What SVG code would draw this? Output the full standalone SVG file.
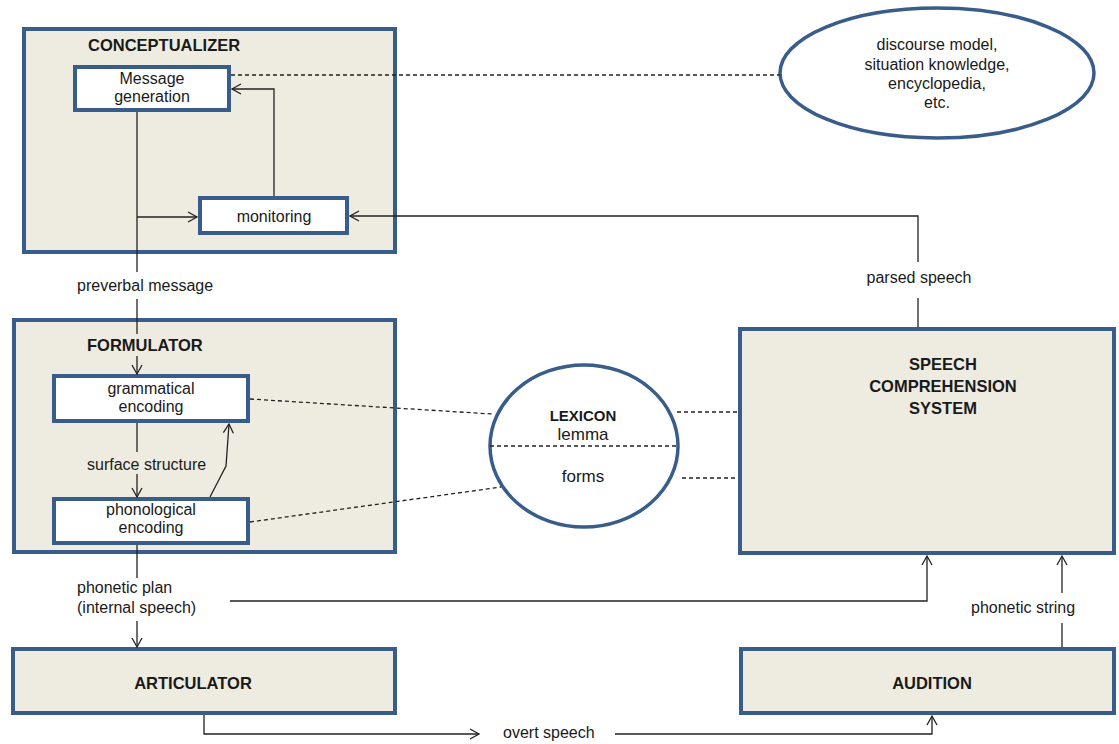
<svg xmlns="http://www.w3.org/2000/svg" width="1119" height="744" viewBox="0 0 1119 744">
<defs>
<marker id="arr" viewBox="-11 -7 13 14" refX="0" refY="0" markerWidth="13" markerHeight="14" orient="auto" markerUnits="userSpaceOnUse">
<path d="M-9,-5 L0,0 L-9,5" fill="none" stroke="#222" stroke-width="1.3"/>
</marker>
</defs>
<style>
.outer{fill:#EEECE1;stroke:#385D8A;stroke-width:4}
.inner{fill:#FFFFFF;stroke:#385D8A;stroke-width:4}
.ell{fill:#FFFFFF;stroke:#385D8A;stroke-width:3.5}
text{font-family:"Liberation Sans",Arial,sans-serif;font-size:16px;fill:#1a1a1a}
.b{font-weight:bold;font-size:16.5px}
.m{text-anchor:middle}
.ln{fill:none;stroke:#222;stroke-width:1.3}
.ds{fill:none;stroke:#222;stroke-width:1.3;stroke-dasharray:4 3}
.a{marker-end:url(#arr)}
</style>
<rect width="1119" height="744" fill="#FFFFFF"/>

<g id="conceptualizer">
<rect class="outer" x="24" y="29" width="371" height="223"/>
<text class="b" x="88" y="51">CONCEPTUALIZER</text>
</g>
<g id="message-generation">
<rect class="inner" x="75" y="67" width="154" height="43"/>
<text class="m" x="152" y="84">Message</text>
<text class="m" x="152" y="102">generation</text>
</g>
<g id="monitoring">
<rect class="inner" x="200" y="198" width="147" height="35"/>
<text class="m" x="274" y="222">monitoring</text>
</g>
<g id="knowledge">
<ellipse class="ell" cx="937" cy="73" rx="157" ry="65"/>
<text class="m" x="937" y="50">discourse model,</text>
<text class="m" x="937" y="70">situation knowledge,</text>
<text class="m" x="937" y="89">encyclopedia,</text>
<text class="m" x="937" y="108">etc.</text>
</g>
<g id="formulator">
<rect class="outer" x="14" y="320" width="381" height="232"/>
<text class="b" x="87" y="351">FORMULATOR</text>
</g>
<g id="grammatical-encoding">
<rect class="inner" x="54" y="376" width="194" height="45"/>
<text class="m" x="151" y="394">grammatical</text>
<text class="m" x="151" y="412">encoding</text>
</g>
<g id="phonological-encoding">
<rect class="inner" x="54" y="499" width="194" height="44"/>
<text class="m" x="151" y="515">phonological</text>
<text class="m" x="151" y="533">encoding</text>
</g>
<g id="lexicon">
<ellipse class="ell" cx="584" cy="446" rx="94" ry="81"/>
<line class="ds" x1="490" y1="446" x2="678" y2="446"/>
<text class="m b" x="583" y="421" style="font-size:15px">LEXICON</text>
<text class="m" x="583" y="440" style="font-size:17px">lemma</text>
<text class="m" x="583" y="482" style="font-size:17px">forms</text>
</g>
<g id="speech-comprehension">
<rect class="outer" x="740" y="329" width="374" height="224"/>
<text class="m b" x="943" y="370">SPEECH</text>
<text class="m b" x="943" y="392">COMPREHENSION</text>
<text class="m b" x="943" y="414">SYSTEM</text>
</g>
<g id="articulator">
<rect class="outer" x="13" y="649" width="382" height="64"/>
<text class="m b" x="193" y="689">ARTICULATOR</text>
</g>
<g id="audition">
<rect class="outer" x="741" y="649" width="373" height="64"/>
<text class="m b" x="932" y="689">AUDITION</text>
</g>

<g id="connectors">
<line class="ln" x1="137" y1="112" x2="137" y2="272"/>
<line class="ln a" x1="137" y1="217" x2="197" y2="217"/>
<polyline class="ln a" points="274,196 274,89 232,89"/>
<line class="ds" x1="231" y1="75" x2="780" y2="75"/>
<polyline class="ln a" points="918,262 918,216 350,216"/>
<line class="ln" x1="918" y1="298" x2="918" y2="327"/>
<line class="ln" x1="137" y1="299" x2="137" y2="334"/>
<line class="ln a" x1="137" y1="356" x2="137" y2="374"/>
<line class="ln" x1="137" y1="423" x2="137" y2="452"/>
<line class="ln a" x1="137" y1="474" x2="137" y2="497"/>
<polyline class="ln a" points="210,497 226,466 229,424"/>
<line class="ds" x1="250" y1="399" x2="492" y2="414"/>
<line class="ds" x1="250" y1="522" x2="501" y2="487"/>
<line class="ds" x1="677" y1="412" x2="738" y2="412"/>
<line class="ds" x1="682" y1="478" x2="738" y2="478"/>
<line class="ln" x1="137" y1="545" x2="137" y2="578"/>
<line class="ln a" x1="137" y1="621" x2="137" y2="647"/>
<polyline class="ln a" points="230,601 927,601 927,556"/>
<polyline class="ln a" points="204,715 204,734 479,734"/>
<polyline class="ln a" points="615,734 932,734 932,716"/>
<line class="ln" x1="1062" y1="647" x2="1062" y2="623"/>
<line class="ln a" x1="1062" y1="593" x2="1062" y2="556"/>
</g>

<g id="labels">
<text x="77" y="291">preverbal message</text>
<text x="87" y="470">surface structure</text>
<text class="m" x="919" y="283">parsed speech</text>
<text x="77" y="593">phonetic plan</text>
<text x="77" y="613">(internal speech)</text>
<text x="503" y="738">overt speech</text>
<text x="971" y="613">phonetic string</text>
</g>
</svg>
